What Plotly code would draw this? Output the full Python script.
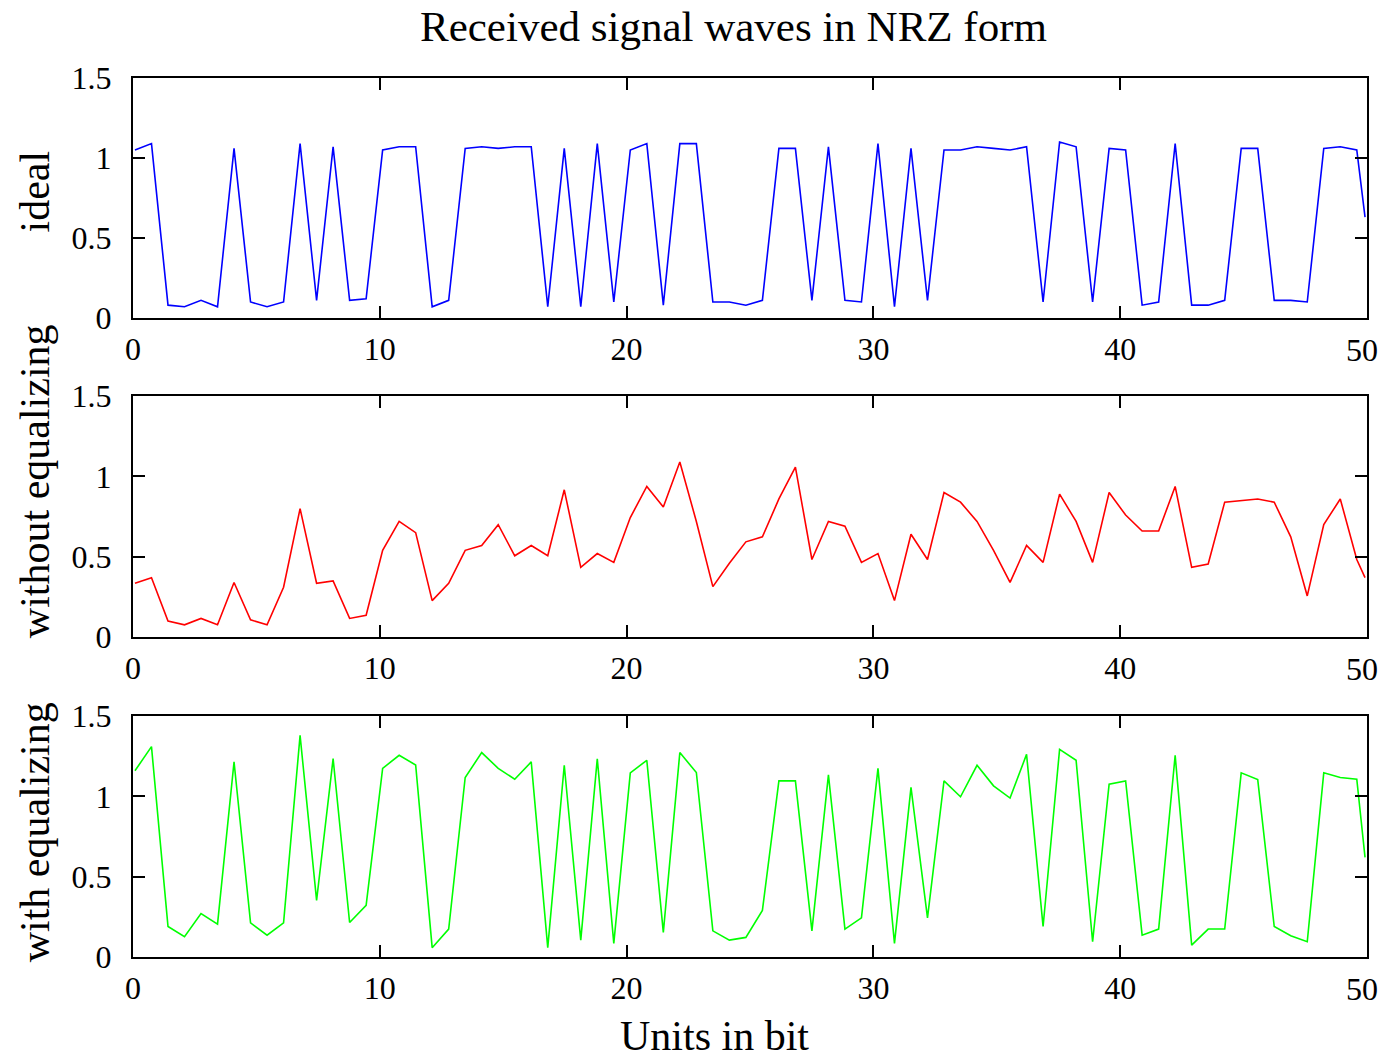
import plotly.graph_objects as go

# sample positions along the bit axis (units in bit)
sample_step = 0.669
sample_start = 0.08
n_samples = 75
bit_positions = [round(sample_start + k * sample_step, 3) for k in range(n_samples)] + [49.92]

ideal = [1.05, 1.09, 0.08, 0.07, 0.11, 0.07, 1.06, 0.10, 0.07, 0.10,
         1.09, 0.11, 1.07, 0.11, 0.12, 1.05, 1.07, 1.07, 0.07, 0.11,
         1.06, 1.07, 1.06, 1.07, 1.07, 0.07, 1.06, 0.07, 1.09, 0.10,
         1.05, 1.09, 0.08, 1.09, 1.09, 0.10, 0.10, 0.08, 0.11, 1.06,
         1.06, 0.11, 1.07, 0.11, 0.10, 1.09, 0.07, 1.06, 0.11, 1.05,
         1.05, 1.07, 1.06, 1.05, 1.07, 0.10, 1.10, 1.07, 0.10, 1.06,
         1.05, 0.08, 0.10, 1.09, 0.08, 0.08, 0.11, 1.06, 1.06, 0.11,
         0.11, 0.10, 1.06, 1.07, 1.05, 0.63]

without_eq = [0.335, 0.37, 0.10, 0.076, 0.116, 0.076, 0.34, 0.107, 0.076, 0.31,
              0.80, 0.335, 0.35, 0.116, 0.136, 0.54, 0.72, 0.65, 0.227, 0.335,
              0.54, 0.57, 0.70, 0.506, 0.57, 0.506, 0.917, 0.434, 0.52, 0.465,
              0.744, 0.938, 0.81, 1.09, 0.72, 0.314, 0.46, 0.593, 0.624, 0.86,
              1.058, 0.483, 0.72, 0.69, 0.465, 0.52, 0.227, 0.64, 0.483, 0.90,
              0.84, 0.72, 0.54, 0.34, 0.57, 0.465, 0.89, 0.72, 0.465, 0.90,
              0.76, 0.66, 0.66, 0.938, 0.434, 0.455, 0.84, 0.85, 0.86, 0.84,
              0.624, 0.256, 0.70, 0.86, 0.483, 0.37]

with_eq = [1.16, 1.31, 0.19, 0.126, 0.27, 0.205, 1.215, 0.213, 0.136, 0.213,
           1.38, 0.353, 1.235, 0.215, 0.322, 1.175, 1.256, 1.196, 0.058, 0.174,
           1.118, 1.273, 1.175, 1.107, 1.215, 0.058, 1.194, 0.105, 1.235, 0.085,
           1.147, 1.225, 0.153, 1.273, 1.149, 0.163, 0.105, 0.122, 0.29, 1.097,
           1.097, 0.163, 1.134, 0.174, 0.244, 1.175, 0.085, 1.056, 0.244, 1.097,
           0.998, 1.194, 1.066, 0.99, 1.262, 0.19, 1.293, 1.225, 0.095, 1.076,
           1.097, 0.136, 0.174, 1.256, 0.074, 0.174, 0.174, 1.147, 1.105, 0.19,
           0.132, 0.095, 1.147, 1.118, 1.107, 0.62]

x_ticks = [0, 10, 20, 30, 40, 50]
x_tick_labels = ["0", "10", "20", "30", "40", "50"]
y_ticks = [0, 0.5, 1, 1.5]
y_tick_labels = ["0", "0.5", "1", "1.5"]
panel_labels = ["ideal", "without equalizing", "with equalizing"]
title_text = "Received signal waves in NRZ form"
x_title = "Units in bit"

FONT = "Liberation Serif, Times New Roman, serif"
TICK_SIZE = 32

fig = go.Figure()
series = [(ideal, "#0000ff", ""), (without_eq, "#ff0000", "2"), (with_eq, "#00ff00", "3")]
for vals, col, ax in series:
    fig.add_trace(go.Scatter(x=bit_positions, y=vals, mode="lines",
                             line=dict(color=col, width=1.6),
                             xaxis="x" + ax, yaxis="y" + ax, showlegend=False))

domains = [[0.727, 1.0], [0.364, 0.638], [0.0, 0.274]]
axcommon = dict(showline=True, linecolor="black", linewidth=2, mirror="ticks",
                ticks="inside", ticklen=12, tickwidth=1.5, tickcolor="black",
                showgrid=False, zeroline=False,
                tickfont=dict(family=FONT, size=TICK_SIZE, color="black"))
# last x tick label sits at the window edge: it is drawn as an annotation below
x_text_axis = x_tick_labels[:-1] + [""]
layout = {}
annotations = []
for i, dom in enumerate(domains):
    s = "" if i == 0 else str(i + 1)
    layout["xaxis" + s] = dict(axcommon, domain=[0, 1], range=[0, 50],
                               tickvals=x_ticks, ticktext=x_text_axis,
                               anchor="y" + s, ticklabelstandoff=2)
    layout["yaxis" + s] = dict(axcommon, domain=dom, range=[0, 1.5],
                               tickvals=y_ticks, ticktext=y_tick_labels,
                               anchor="x" + s, ticklabelstandoff=13)
    annotations.append(dict(text=x_tick_labels[-1], xref="x" + s, yref="y" + s,
                            x=x_ticks[-1], y=0, xanchor="center", yanchor="middle",
                            xshift=-5, yshift=-32, showarrow=False,
                            font=dict(family=FONT, size=TICK_SIZE, color="black")))

label_y = [0.871, 0.5415, 0.142]
for txt, yy in zip(panel_labels, label_y):
    annotations.append(dict(text=txt, xref="paper", yref="paper", x=-0.0793, y=yy,
                            xanchor="center", yanchor="middle", textangle=-90,
                            showarrow=False, font=dict(family=FONT, size=42, color="black")))
annotations.append(dict(text=x_title, xref="paper", yref="paper", x=0.471, y=-0.090,
                        xanchor="center", yanchor="middle", showarrow=False,
                        font=dict(family=FONT, size=42, color="black")))
annotations.append(dict(text=title_text, xref="paper", yref="paper", x=0.487, y=1.059,
                        xanchor="center", yanchor="middle", showarrow=False,
                        font=dict(family=FONT, size=43, color="black")))

# the page body adds an 8px margin on every side; keep the figure inside the window
fig.update_layout(width=1373, height=1044, margin=dict(l=125, r=12, t=70, b=95),
                  paper_bgcolor="white", plot_bgcolor="white",
                  annotations=annotations, **layout)

fig.write_html("out.html")
